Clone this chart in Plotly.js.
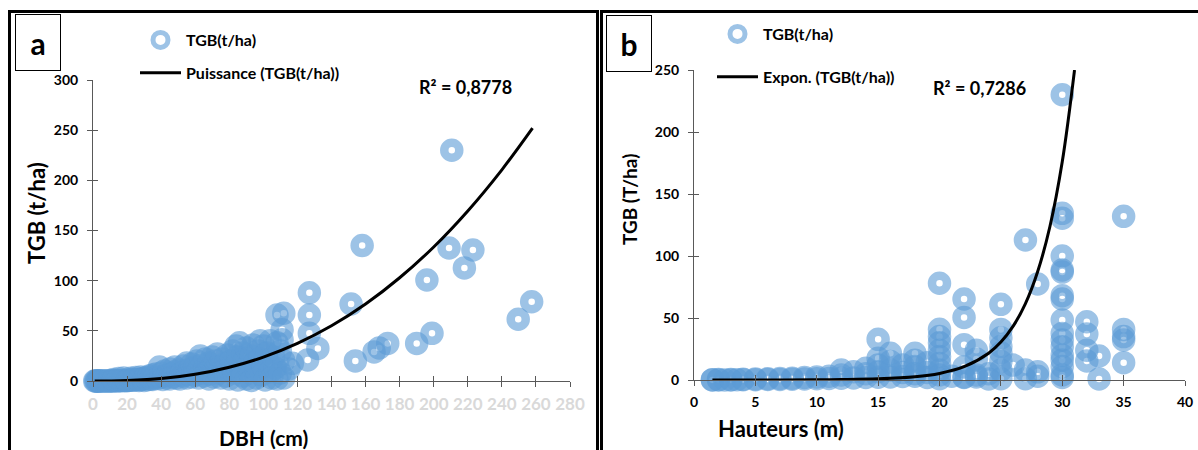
<!DOCTYPE html>
<html>
<head>
<meta charset="utf-8">
<script src="https://cdn.plot.ly/plotly-3.0.1.min.js"></script>
<style>
html,body{margin:0;padding:0;background:#fff;}
#chart{width:1198px;height:450px;}
</style>
</head>
<body>
<div id="chart"></div>
<script>
// ---------- Panel a : DBH (cm) vs TGB (t/ha) ----------
const dbhA = [
  1,1.5,2,2.5,3,3.5,4,5,6,7,8,9,10,11,12,13,14,15,16,17,18,19,20,21,22,23,24,25,26,27,28,29,30,
  12,15,18,20,22,25,27,28,30,31,
  32,33,34,35,35,36,37,38,39,40,
  40,41,42,42,43,44,45,45,46,47,
  48,48,49,50,50,51,52,53,53,54,
  55,55,56,57,58,58,59,60,60,61,
  62,62,63,64,64,65,66,66,67,68,
  68,69,70,70,71,72,72,73,74,75,
  75,76,77,78,78,79,80,80,81,82,
  83,84,84,85,85,86,87,88,88,89,
  90,90,91,92,93,93,94,95,96,96,
  97,98,98,99,100,100,101,102,103,104,
  104,105,106,107,108,108,110,110,112,115,112,
  108,112,111,111,117,127,127,127,126,132,
  151.5,154,158,165,168,173,190,199,196,210.6,
  209,223,218,249.6,257.5
];
const tgbA = [
  0,0,0,0,0,0,0.01,0.01,0.02,0.03,0.05,0.07,0.1,0.12,0.16,0.2,0.25,0.3,0.35,0.4,0.5,0.6,0.7,0.8,0.9,1.0,1.1,1.3,1.4,1.6,1.8,2.0,2.2,
  1.5,2.5,3,0.2,2.8,3.5,0.5,4,0.6,3.5,
  1.2,5,2,1.5,6,3,7,2.5,14,4,
  8,1.5,5,10,3,6,2,12,7,4,
  9,14,3,6,11,2,8,5,15,10,
  3,18,7,12,4,17,9,6,14,20,
  3,11,25,8,16,5,13,22,10,2,
  18,7,15,24,4,11,20,27,8,14,
  3,22,10,18,5,26,12,2,20,30,
  8,35,16,1,24,38,12,28,5,20,
  33,2,15,8,25,0.5,36,18,10,3,
  30,40,22,6,14,35,1,28,18,40,
  9,3,24,13,2,38,30,8,20,12,3,
  65.8,67.5,51,41,17.6,88,65.8,47.5,21,32.5,
  76.8,20,135,29,33,37.5,37.5,47.5,100.7,230,
  132.6,130.6,112.7,61.5,79
];
// Power trendline
const trendAx = [1,10,20,40,60,80,100,120,140,160,180,200,220,240,258];
const trendAy = [0,0.05,0.43,2.4,6.7,13.7,23.8,37.5,55,76.7,102.9,133.6,169.5,210.5,252];

// ---------- Panel b : Hauteurs (m) vs TGB ----------
const hautB = [
  1.5,2,2.5,3,3.5,4,5,6,7,8,
  9,10,11,12,13,14,15,16,17,18,
  19,20,22,23,24,25,27,28,30,33,
  1.5,2,3,4,5,6,7,8,9,10,
  11,12,12,13,14,14,15,15,15,15,
  16,16,16,17,17,18,18,18,18,19,
  19,20,20,20,20,20,20,20,20,20,
  21,22,22,22,22,22,23,23,23,24,
  25,25,25,25,25,25,25,26,27,27,
  28,28,30,30,30,30,30,30,30,30,
  30,30,30,30,30,30,30,30,32,32,
  32,32,33,35,35,35,35,35
];
const tgbB = [
  0.1,0.1,0.1,0.1,0.2,0.2,0.3,0.4,0.5,0.6,
  0.8,1.0,1.2,1.5,1.7,2,2.2,2.5,2.8,3,
  2,1,2,2.5,0.8,1,1,3,2,0.8,
  0.3,0.5,0.4,0.6,0.8,1.0,1.2,1.5,2,2.5,
  3,4,8,6.7,5,9.4,6.7,12,17.5,32.8,
  8,15,21.5,6,12,10.8,16,21.5,5,14,
  6,4,8,13.4,19,24,30,35,40.9,78,
  3,2.4,10.5,28.5,50.5,65.3,4,24,17,5,
  8,15,22,27,34,40.8,61,12,8,112.9,
  6.6,77.4,4,10.8,16.1,20,26.9,32.3,37.6,48.4,
  65.3,68,87,88.7,100,130.4,134.4,230,15.3,24,
  37,47,19.4,14,32.3,35,40.8,132
];
// Exponential trendline
const trendBx = [1.5,5,10,12,15,18,20,22,24,25,26,27,28,29,30,31];
const trendBy = [0.01,0.03,0.16,0.32,0.92,2.6,5.3,10.7,21.6,30.6,43.4,61.6,87.5,124,176,250];

// ---------- Text ----------
const seriesName = 'TGB(t/ha)';
const trendNameA = 'Puissance (TGB(t/ha))';
const trendNameB = 'Expon. (TGB(t/ha))';
const r2A = 'R² = 0,8778';
const r2B = 'R² = 0,7286';

// ---------- Drawing ----------
const W = 1198, H = 450;
const px = v => v / W;
const py = v => 1 - v / H;
const FONT = 'Lato, "Open Sans", sans-serif';
const ringColor = 'rgba(91,155,213,0.6)';

const marker = {symbol:'circle', size:15, color:'rgba(0,0,0,0)', line:{color:ringColor, width:8.5}};

const traces = [
  {type:'scatter', mode:'markers', x:dbhA, y:tgbA, xaxis:'x', yaxis:'y', name:seriesName,
   marker:marker, cliponaxis:false, legend:'legend', legendgroup:'a1'},
  {type:'scatter', mode:'lines', x:trendAx, y:trendAy, xaxis:'x', yaxis:'y', name:trendNameA,
   line:{color:'#000', width:3, shape:'spline'}, cliponaxis:false, legend:'legend', legendgroup:'a2'},
  {type:'scatter', mode:'markers', x:hautB, y:tgbB, xaxis:'x2', yaxis:'y2', name:seriesName,
   marker:marker, cliponaxis:false, legend:'legend2', legendgroup:'b1'},
  {type:'scatter', mode:'lines', x:trendBx, y:trendBy, xaxis:'x2', yaxis:'y2', name:trendNameB,
   line:{color:'#000', width:3, shape:'spline'}, cliponaxis:false, legend:'legend2', legendgroup:'b2'},
  // empty traces that only carry the inner half of the cross tick marks
  {type:'scatter', mode:'markers', x:[], y:[], xaxis:'x3', yaxis:'y3', showlegend:false},
  {type:'scatter', mode:'markers', x:[], y:[], xaxis:'x4', yaxis:'y4', showlegend:false}
];

const axisCommon = {showgrid:false, zeroline:false, showline:true, linecolor:'#595959', linewidth:1,
  ticks:'outside', ticklen:5, tickcolor:'#595959', tickwidth:1, fixedrange:true};
const innerTicks = {showgrid:false, zeroline:false, showline:false, showticklabels:false,
  ticks:'inside', ticklen:5, tickcolor:'#595959', tickwidth:1, fixedrange:true};

const legendCommon = {xanchor:'left', yanchor:'top', bgcolor:'rgba(0,0,0,0)', borderwidth:0,
  font:{family:FONT, size:16, color:'#000', weight:700}, itemwidth:41, traceorder:'grouped'};

const ann = (text, x, y, size, extra) => Object.assign({text:text, xref:'paper', yref:'paper',
  x:px(x), y:py(y), xanchor:'center', yanchor:'middle', showarrow:false,
  font:{family:FONT, size:size, color:'#000', weight:700}}, extra || {});

const layout = {
  width:W, height:H,
  margin:{l:0, r:0, t:0, b:0},
  paper_bgcolor:'#fff', plot_bgcolor:'rgba(0,0,0,0)',
  hovermode:false,
  showlegend:true,
  xaxis:Object.assign({}, axisCommon, {domain:[px(93), px(570)], range:[0,280], dtick:20, anchor:'y',
    tickfont:{family:FONT, size:17, color:'#d9d9d9', weight:700}, ticklabelstandoff:3}),
  yaxis:Object.assign({}, axisCommon, {domain:[py(381), py(80)], range:[0,300], dtick:50, anchor:'x',
    tickfont:{family:FONT, size:14, color:'#000', weight:700}, ticklabelstandoff:6}),
  xaxis2:Object.assign({}, axisCommon, {domain:[px(694), px(1185)], range:[0,40], dtick:5, anchor:'y2',
    tickfont:{family:FONT, size:14, color:'#000', weight:700}, ticklabelstandoff:4}),
  yaxis2:Object.assign({}, axisCommon, {domain:[py(380), py(70)], range:[0,250], dtick:50, anchor:'x2',
    tickfont:{family:FONT, size:14, color:'#000', weight:700}, ticklabelstandoff:6}),
  xaxis3:Object.assign({}, innerTicks, {overlaying:'x', anchor:'y3', range:[0,280], dtick:20}),
  yaxis3:Object.assign({}, innerTicks, {overlaying:'y', anchor:'x3', range:[0,300], dtick:50}),
  xaxis4:Object.assign({}, innerTicks, {overlaying:'x2', anchor:'y4', range:[0,40], dtick:5}),
  yaxis4:Object.assign({}, innerTicks, {overlaying:'y2', anchor:'x4', range:[0,250], dtick:50}),
  legend:Object.assign({}, legendCommon, {x:px(135), y:py(23), tracegroupgap:9}),
  legend2:Object.assign({}, legendCommon, {x:px(712), y:py(17), tracegroupgap:19}),
  shapes:[
    {type:'rect', xref:'paper', yref:'paper', x0:px(9.5), x1:px(597.5), y0:py(11.5), y1:py(470),
     line:{color:'#000', width:3}, fillcolor:'rgba(0,0,0,0)', layer:'below'},
    {type:'rect', xref:'paper', yref:'paper', x0:px(601.5), x1:px(1210), y0:py(11.5), y1:py(470),
     line:{color:'#000', width:3}, fillcolor:'rgba(0,0,0,0)', layer:'below'}
  ],
  annotations:[
    ann('a', 38, 42.5, 30, {bordercolor:'#000', borderwidth:1, width:42, height:53, bgcolor:'#fff'}),
    ann('b', 628.5, 44, 30, {bordercolor:'#000', borderwidth:1, width:42, height:53, bgcolor:'#fff'}),
    ann(r2A, 465, 87, 18),
    ann(r2B, 980, 88, 18),
    ann('TGB (t/ha)', 36, 213, 22, {textangle:-90}),
    ann('TGB (T/ha)', 629, 200, 19, {textangle:-90}),
    ann('DBH (cm)', 263, 437, 21),
    ann('Hauteurs (m)', 781, 428, 22)
  ]
};

Plotly.newPlot('chart', traces, layout, {displayModeBar:false, staticPlot:true});
</script>
</body>
</html>
